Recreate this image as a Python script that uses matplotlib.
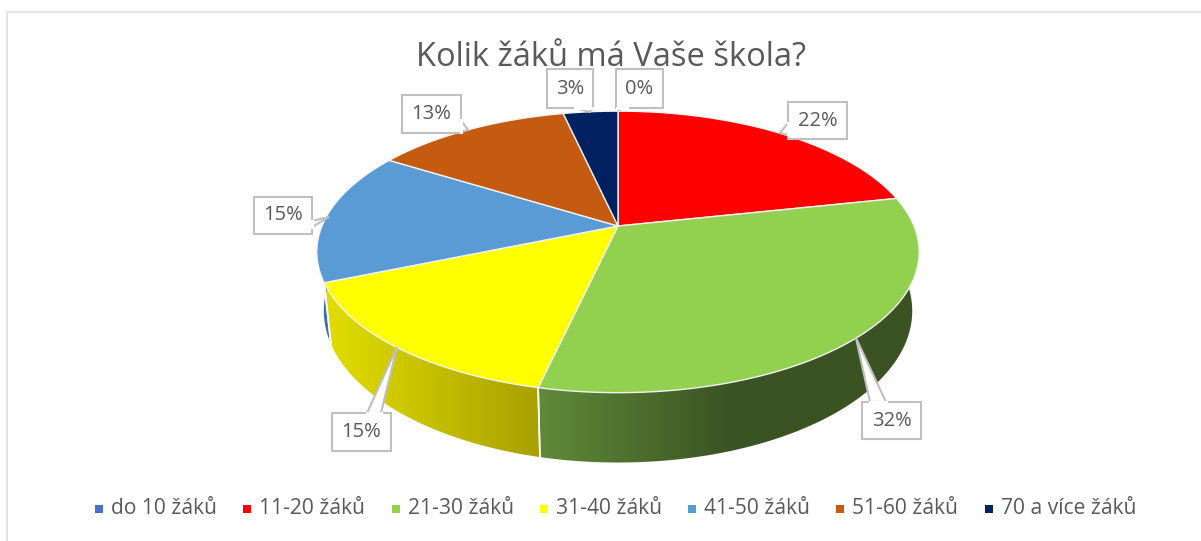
import numpy as np
import matplotlib
matplotlib.use('Agg')
import matplotlib.pyplot as plt
from matplotlib.patches import Polygon, Rectangle

plt.rcParams['font.family'] = ['Open Sans', 'DejaVu Sans']

W, H = 1201, 541

categories = ['do 10 žáků', '11-20 žáků', '21-30 žáků', '31-40 žáků',
              '41-50 žáků', '51-60 žáků', '70 a více žáků']
shares = [0.0, 21.6, 31.9, 15.1, 15.2, 12.6, 3.5]
labels = ['0%', '22%', '32%', '15%', '15%', '13%', '3%']
colors = ['#4472C4', '#FF0000', '#92D050', '#FFFF00', '#5B9BD5', '#C55A11', '#002060']
side_left = ['#4472C4', '#FF0000', '#5F8A38', '#E0DC00', '#3F6FB5', '#C55A11', '#002060']
side_right = ['#4472C4', '#FF0000', '#3B5323', '#A8A000', '#3F6FB5', '#C55A11', '#002060']

cx, cy = 618, 226
A, B, K = 296, 136, 0.184
DEPTH = 57
SHRINK = 0.977


def rim(theta, depth=0.0):
    # perspective view of the tilted disc, theta clockwise from the top
    w = 1 + K * np.cos(theta)
    scale = 1 - (1 - SHRINK) * depth / DEPTH
    x = cx + A * scale * np.sin(theta) / w
    y = cy - B * np.cos(theta) / w + depth / w
    return x, y


def gradient_fill(ax, pts, c0, c1, x0, x1):
    poly = Polygon(pts, closed=True, fc='none', ec='none')
    ax.add_patch(poly)
    rgb0 = np.array(matplotlib.colors.to_rgb(c0))
    rgb1 = np.array(matplotlib.colors.to_rgb(c1))
    t = np.clip((np.arange(W) - x0) / (x1 - x0), 0, 1)[None, :, None]
    img = rgb0[None, None, :] * (1 - t) + rgb1[None, None, :] * t
    im = ax.imshow(img, extent=(0, W, H, 0), aspect='auto', zorder=2, interpolation='bilinear')
    im.set_clip_path(poly)


fig = plt.figure(figsize=(W / 100, H / 100), dpi=100)
ax = fig.add_axes([0, 0, 1, 1])
ax.set_xlim(0, W)
ax.set_ylim(H, 0)
ax.axis('off')

# chart frame, the picture cuts it off at the bottom and right
ax.plot([7, 7, W], [H, 12, 12], color='#E3E3E3', lw=1.5, zorder=1)

edges = np.radians(np.cumsum([0] + shares) / sum(shares) * 360)

# sides first, only the front half of the disc shows them
for i in range(len(shares)):
    a0, a1 = edges[i], edges[i + 1]
    a0v, a1v = max(a0, np.pi / 2), min(a1, 3 * np.pi / 2)
    if a1v <= a0v:
        continue
    t = np.linspace(a0v, a1v, 150)
    xt, yt = rim(t)
    xb, yb = rim(t, DEPTH)
    pts = np.vstack([np.column_stack([xt, yt]), np.column_stack([xb, yb])[::-1]])
    x0, x1 = xb.min(), xb.max()
    if i == 2:
        # gradient runs out to the dark tone well before the right edge
        gradient_fill(ax, pts, side_left[i], side_right[i], x0, x0 + 190)
    else:
        gradient_fill(ax, pts, side_left[i], side_right[i], x0, x1)
    if a0 == a0v:
        ax.plot([xt[0], xb[0]], [yt[0], yb[0]], color='white', lw=1.2, zorder=3)
    if a1 == a1v:
        ax.plot([xt[-1], xb[-1]], [yt[-1], yb[-1]], color='white', lw=1.2, zorder=3)

# top face
for i in range(len(shares)):
    if shares[i] == 0:
        continue
    t = np.linspace(edges[i], edges[i + 1], 150)
    xt, yt = rim(t)
    pts = np.vstack([[cx, cy], np.column_stack([xt, yt])])
    ax.add_patch(Polygon(pts, closed=True, fc=colors[i], ec='#F2F2F2', lw=1.0, zorder=4))

ax.text(611, 57, 'Kolik žáků má Vaše škola?', fontsize=23.5, color='#595959',
        ha='center', va='center', zorder=6)

# callouts: box (left, top, right, bottom), pointer base and tip
boxes = [(616, 69, 663, 108), (788, 102, 847, 139), (862, 402, 921, 439), (332, 413, 391, 451),
         (254, 197, 312, 234), (402, 95, 461, 133), (547, 69, 593, 108)]
bases = [((617, 108), (627, 108)), ((788, 123), (788, 135)), ((870, 402), (886, 402)),
         ((367, 413), (381, 413)), ((312, 221), (312, 227)), ((461, 120), (461, 132)),
         ((575, 108), (592, 108))]
tips = [(618, 110), (780, 133), (856, 338), (397, 347), (329, 217), (468, 130), (590, 112)]
for i in [6, 5, 4, 3, 2, 1, 0]:
    l, t, r, b = boxes[i]
    p0, p1 = bases[i]
    ax.add_patch(Polygon([p0, tips[i], p1], closed=True, fc='white',
                         ec='#BFBFBF', lw=1.5, zorder=5, joinstyle='miter'))
    ax.add_patch(Rectangle((l, t), r - l, b - t, fc='white', ec='#BFBFBF', lw=1.5, zorder=5))
    ax.plot([p0[0], p1[0]], [p0[1], p1[1]], color='white', lw=2.2, zorder=5.5)
    ax.text((l + r) / 2, (t + b) / 2, labels[i], fontsize=14.5, color='#595959',
            ha='center', va='center', zorder=6)

# legend
legend_x = [99, 247, 396, 544, 692, 840, 989]
for x, name, c in zip(legend_x, categories, colors):
    ax.add_patch(Rectangle((x - 4, 505), 8, 8, fc=c, ec='none', zorder=6))
    ax.text(x + 12, 509, name, fontsize=15.1, color='#595959', ha='left', va='center', zorder=6)

fig.savefig('out.png', dpi=100)
